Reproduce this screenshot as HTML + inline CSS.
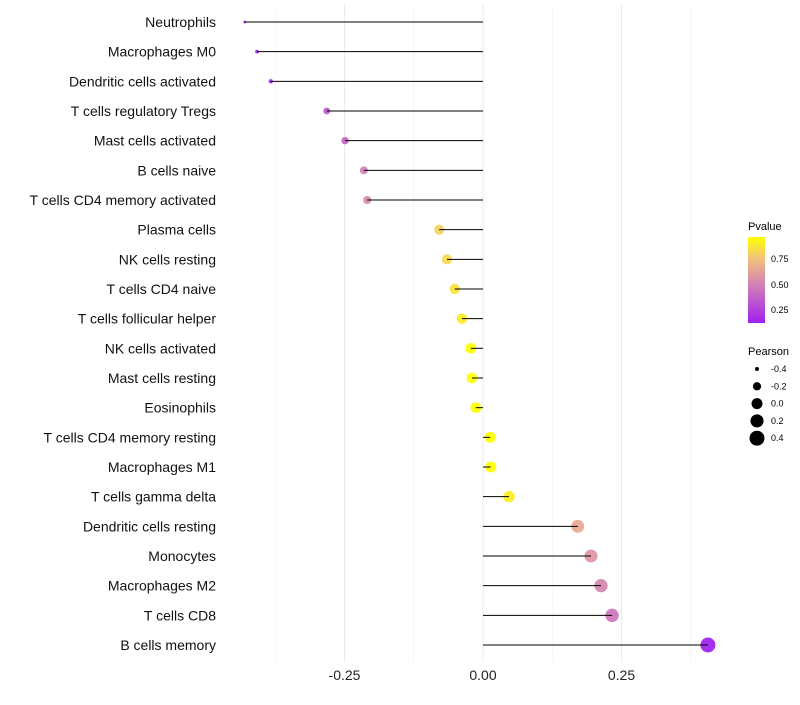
<!DOCTYPE html>
<html><head><meta charset="utf-8"><style>
body{margin:0;background:#fff;font-family:"Liberation Sans",sans-serif}
svg text{font-family:"Liberation Sans",sans-serif}
</style></head><body>
<svg id="chart" width="800" height="700">
<defs><linearGradient id="pg" x1="0" y1="1" x2="0" y2="0">
<stop offset="0" stop-color="#a020f0"/><stop offset="0.45" stop-color="#d382b4"/><stop offset="0.75" stop-color="#f2c27a"/><stop offset="1" stop-color="#ffff00"/></linearGradient></defs>
<g id="grid"></g><g id="points"></g><g id="stems"></g><g id="labels"></g>
<g id="legend">
<text x="748" y="230" font-size="11">Pvalue</text>
<rect x="748" y="237" width="17" height="86" fill="url(#pg)"/>
<text x="771" y="262" font-size="9">0.75</text>
<text x="771" y="288" font-size="9">0.50</text>
<text x="771" y="313" font-size="9">0.25</text>
<text x="748" y="355" font-size="11">Pearson</text>
<g id="sizeleg"></g>
</g>
</svg>
<script>
const cells=["Neutrophils","Macrophages M0","Dendritic cells activated","T cells regulatory  Tregs ","Mast cells activated","B cells naive","T cells CD4 memory activated","Plasma cells","NK cells resting","T cells CD4 naive","T cells follicular helper","NK cells activated","Mast cells resting","Eosinophils","T cells CD4 memory resting","Macrophages M1","T cells gamma delta","Dendritic cells resting","Monocytes","Macrophages M2","T cells CD8","B cells memory"];
const pearson=[-0.430,-0.408,-0.383,-0.282,-0.249,-0.215,-0.209,-0.079,-0.065,-0.051,-0.038,-0.022,-0.020,-0.013,0.013,0.014,0.047,0.171,0.195,0.213,0.233,0.406];
const pvalue=[0.10,0.12,0.15,0.30,0.35,0.44,0.48,0.80,0.83,0.86,0.90,0.96,0.96,0.96,0.96,0.96,0.90,0.63,0.55,0.47,0.41,0.11];
const xTicks=[-0.25,0,0.25];
const xTickLabels=["-0.25","0.00","0.25"];
const sizeLegend=[-0.4,-0.2,0.0,0.2,0.4];
const NS="http://www.w3.org/2000/svg";
const X=v=>483+v*554;
const Y=i=>22+i*(623/21);
const R=v=>Math.sqrt(Math.max(1,4+(v+0.4)/0.8*52));
function col(p){
 const st=[[0.11,[160,32,240]],[0.45,[211,130,180]],[0.75,[242,194,122]],[0.96,[255,255,0]]];
 if(p<=st[0][0])return `rgb(${st[0][1]})`;
 for(let k=1;k<st.length;k++){if(p<=st[k][0]){const t=(p-st[k-1][0])/(st[k][0]-st[k-1][0]);const c=st[k-1][1].map((a,j)=>Math.round(a+(st[k][1][j]-a)*t));return `rgb(${c})`;}}
 return "rgb(255,255,0)";
}
function mk(t,a,p){const e=document.createElementNS(NS,t);for(const k in a)e.setAttribute(k,a[k]);p.appendChild(e);return e;}
const grid=document.getElementById('grid'),pts=document.getElementById('points'),stems=document.getElementById('stems'),labels=document.getElementById('labels');
[-0.375,-0.25,-0.125,0,0.125,0.25,0.375].forEach(v=>{
 const l=mk('line',{x1:X(v),x2:X(v),y1:5,y2:662,stroke:v*8%2?'#f3f3f3':'#ebebeb','stroke-width':v*8%2?0.6:1},grid);
 
 
});
xTicks.forEach((v,i)=>{
 const t=mk('text',{x:X(v),y:680,'font-size':14,'text-anchor':'middle',fill:'#222'},labels);t.textContent=xTickLabels[i];
 
 
});
cells.forEach((c,i)=>{
 const y=Y(i);
 const t=mk('text',{x:216,y:y+5,'font-size':14,'text-anchor':'end',fill:'#111'},labels);t.textContent=c;
 
 
 const d=mk('circle',{cx:X(pearson[i]),cy:y,r:R(pearson[i]),fill:col(pvalue[i]),'fill-opacity':0.92},pts);
 
 
 const l=mk('line',{x1:X(0),x2:X(pearson[i]),y1:y,y2:y,stroke:'#000','stroke-width':1},stems);
 
 
});
const sl=document.getElementById('sizeleg');
sizeLegend.forEach((v,i)=>{
 const y=369+i*17.3;
 const c=mk('circle',{cx:757,cy:y,r:R(v),fill:'#000'},sl);
 
 
 const t=mk('text',{x:771,y:y+3,'font-size':9},sl);t.textContent=v.toFixed(1);
 
 
});
</script>
</body></html>
